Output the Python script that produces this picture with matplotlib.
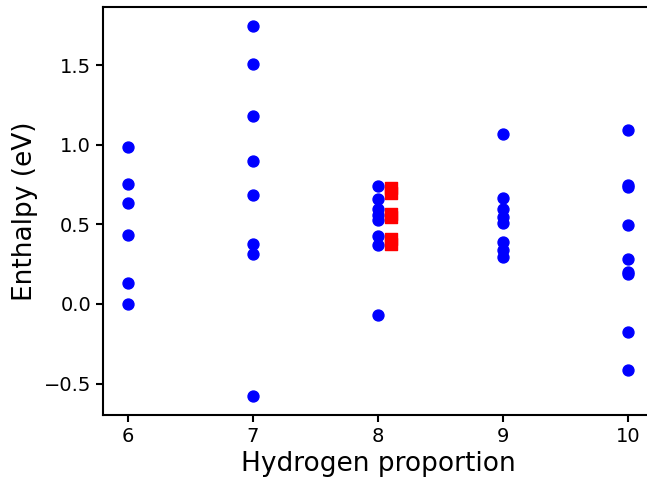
import matplotlib
matplotlib.use('Agg')
import matplotlib.pyplot as plt
import numpy as np

# enthalpy values per hydrogen proportion (blue points)
h6 = [0.985, 0.757, 0.636, 0.433, 0.134, 0.0]
h7 = [1.750, 1.510, 1.181, 0.899, 0.682, 0.380, 0.312, -0.581]
h8 = [0.740, 0.657, 0.594, 0.558, 0.531, 0.427, 0.370, -0.069]
h9 = [1.071, 0.669, 0.594, 0.548, 0.510, 0.391, 0.339, 0.297]
h10 = [1.096, 0.746, 0.738, 0.496, 0.280, 0.200, 0.190, -0.174, -0.414]

# highlighted structures (red squares), slightly offset from x=8
x_red = 8.1
red = [0.730, 0.700, 0.568, 0.545, 0.408, 0.375]

fig = plt.figure(figsize=(6.47, 4.80), dpi=100)
ax = fig.add_axes([103 / 647, 65 / 480, 550 / 647, 408 / 480])

for x, vals in zip([6, 7, 8, 9, 10], [h6, h7, h8, h9, h10]):
    ax.scatter([x] * len(vals), vals, color='b', s=62, zorder=2)
ax.scatter([x_red] * len(red), red, color='r', marker='s', s=66, zorder=3)

ax.set_xlim(5.8, 10.2)
ax.set_ylim(-0.698, 1.867)
ax.set_xticks([6, 7, 8, 9, 10])
ax.set_yticks([-0.5, 0.0, 0.5, 1.0, 1.5])
ax.tick_params(labelsize=14, width=1.5, length=5)
for s in ax.spines.values():
    s.set_linewidth(1.5)

ax.set_xlabel('Hydrogen proportion', fontsize=19)
ax.set_ylabel('Enthalpy (eV)', fontsize=19)

fig.savefig('out.png', dpi=100)
